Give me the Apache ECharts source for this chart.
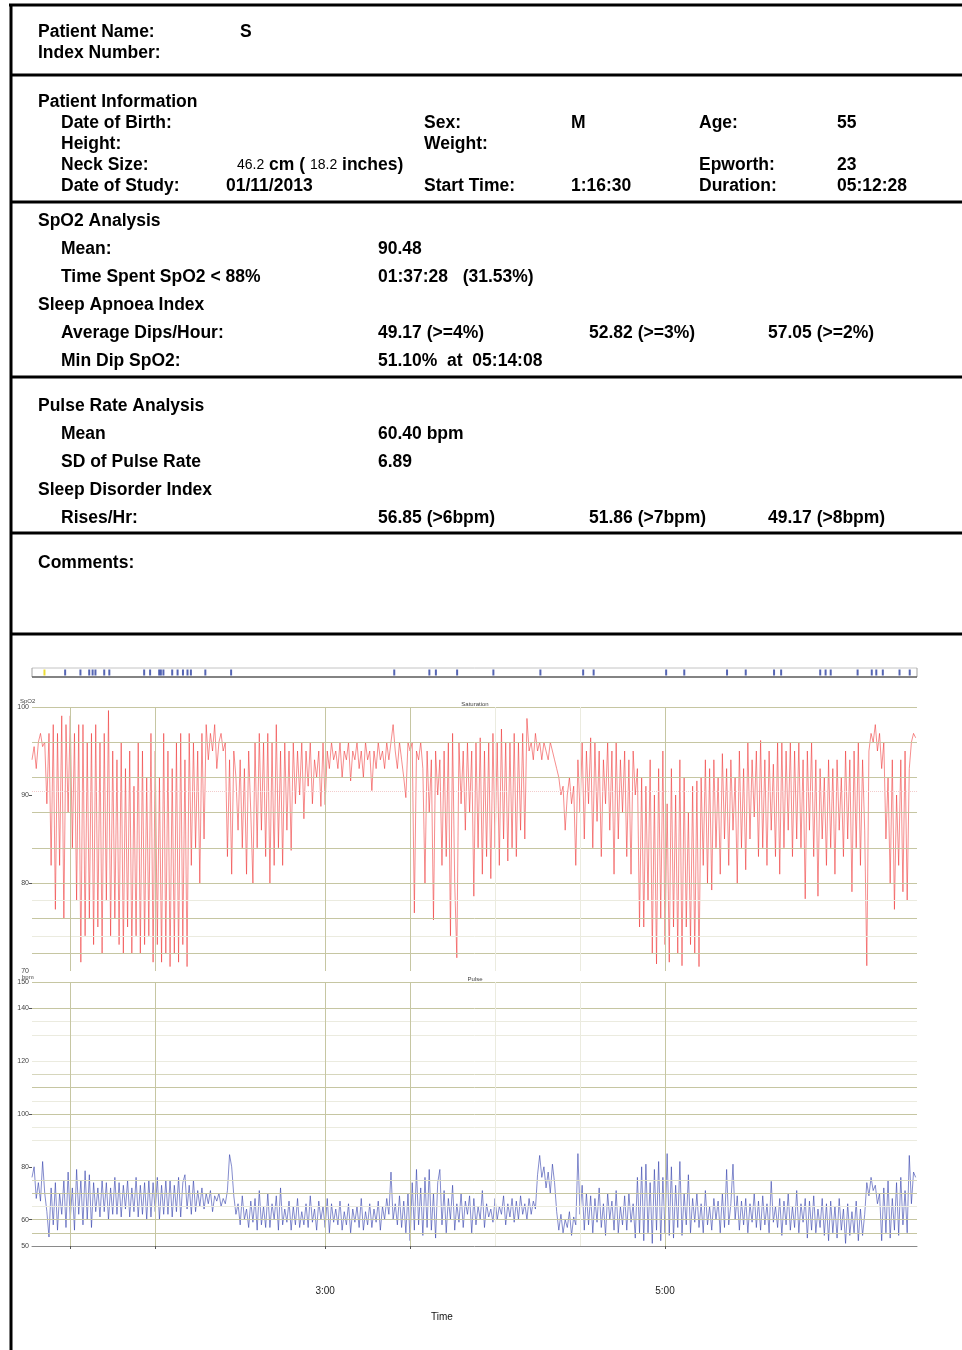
<!DOCTYPE html>
<html>
<head>
<meta charset="utf-8">
<script src="https://cdn.jsdelivr.net/npm/echarts@6/dist/echarts.min.js"></script>
<style>
html,body{margin:0;padding:0;background:#fff;}
#main{width:962px;height:1350px;}
</style>
</head>
<body>
<div id="main"></div>
<script>
// ---------------- DATA ----------------
const studyStartMin = 76.5;      // 1:16:30 in minutes after midnight
const studyEndMin = 388.97;      // 6:28:58
const sampleStepMin = 0.75;      // one sample every 45 s

// event (desaturation) markers, minutes after midnight
const eventTimes = [88.2, 93.6, 96.7, 97.9, 98.9, 102, 103.8, 116.1, 118.2, 121.4, 122, 122.9, 126, 127.9, 129.8, 131.4, 132.6, 137.7, 146.8, 204.4, 216.8, 219.1, 226.6, 239.4, 256, 271.1, 274.8, 300.4, 306.8, 321.9, 328.5, 338.5, 341, 354.8, 356.7, 358.5, 368, 373, 374.6, 376.9, 382.8, 386.4];
const markerTimes = [80.9];

// SpO2 (%)
const spo2 = [
 94, 95.5, 93, 96, 97, 95.5, 96, 89,
 97, 82, 98, 77, 97, 82, 99, 76,
 98, 88, 99, 84, 97, 78, 98, 71,
 98, 74, 96, 76, 97, 73, 98, 75,
 96, 72, 97, 78, 99.6, 74, 95, 76,
 94, 73, 96, 72, 93, 75, 95, 72,
 91, 74, 96, 72, 95, 73, 92, 74,
 97, 71, 95, 73, 92, 71, 97, 72,
 95, 70.5, 93, 72, 96, 71, 97, 73,
 94, 70.5, 97, 82, 96, 84, 95, 80,
 97, 85, 98, 94, 97, 95, 98, 93,
 96, 97, 95, 96, 83, 94, 81, 95,
 92, 86, 94, 84, 93, 81, 95, 88,
 80, 96, 84, 97, 86, 96, 83, 97,
 80, 96, 82, 98, 84, 95, 82, 96,
 86, 95, 83.7, 96, 89, 95, 90, 96,
 87.3, 95, 91, 96, 89, 94, 92, 95,
 88.7, 96, 88.9, 95, 93, 96, 94, 95,
 93, 96, 92, 95, 94, 96, 91.6, 95,
 94, 96, 93, 95, 92, 96, 94, 95,
 90.5, 95, 93, 96, 94, 95, 93, 96,
 94, 96, 98, 95, 93, 96, 94, 92,
 89.7, 96, 95, 96, 76.6, 95, 94, 96,
 93, 80, 95, 88, 94, 75.8, 95, 90,
 94, 82, 95, 83, 96, 74, 97, 80,
 71.5, 96, 89, 95, 86, 96, 88, 95,
 78.5, 96, 84, 96.5, 81, 95, 83, 96,
 80.5, 97, 84, 96, 82, 97.5, 85, 96,
 82.5, 96, 84, 97, 83, 96, 86, 97,
 85, 98.7, 95, 96, 94, 97, 95, 96,
 94, 96, 95, 94, 96, 95, 94, 93,
 92, 90, 91, 86, 90, 92, 89, 91,
 82, 94, 88, 96, 85, 95, 89, 96.5,
 84, 96, 87, 95, 83, 94, 89, 96,
 86, 95, 81, 96, 85, 94, 88, 95,
 83, 94, 81, 95, 90, 93, 75, 92,
 75, 91, 78, 94, 72, 90, 70.8, 93,
 76, 95, 73, 89, 71, 93, 75, 90,
 72, 94, 70.6, 92, 75, 88, 73, 91,
 72, 91.6, 70.5, 92, 82, 94, 80, 93,
 79.2, 94, 84, 92, 81, 94.7, 85, 93,
 82, 94, 86, 92, 80, 95, 84, 93,
 81.5, 96, 85, 94, 87.5, 95, 83, 96.2,
 84, 94, 82, 95, 86, 93.5, 83, 96,
 81, 96, 84, 95, 86, 96, 83, 95,
 85, 96, 84, 94, 78.2, 95, 86, 96,
 83, 94, 78.5, 93, 85, 92, 82, 94,
 84, 93, 81, 94, 86, 92, 83, 95,
 85, 94, 79, 95, 84, 96, 82, 94,
 86, 70.6, 95, 97, 96, 98, 95, 97,
 93, 96, 85, 92, 80, 94, 77, 90,
 82, 94, 79, 95, 78, 93, 96, 97,
 96.5
];

// Pulse (bpm)
const pulse = [
 76, 80, 68, 74, 67, 82, 70, 63,
 53.4, 72, 58, 74, 56, 70, 62, 75,
 57, 78, 60, 72, 56, 79, 62, 75,
 58, 78.5, 60, 77, 57, 74, 63, 72,
 61, 75, 63, 74, 60, 72, 62, 76,
 62, 74, 61, 73, 64, 75, 61, 72,
 63, 76, 61, 73, 62, 74, 60, 75,
 61, 74, 63, 76, 60, 73, 62, 75,
 62, 75, 61, 73, 63, 76, 61, 74,
 77, 64, 73, 62, 75, 63, 71, 65,
 72, 64, 70, 66, 71, 63, 69, 67,
 70, 65, 68, 66, 71, 84.6, 80, 69,
 62, 66, 58, 69, 60, 64, 57, 67,
 59, 68, 56, 71, 58, 65, 57, 70,
 57, 66, 60, 69, 56, 72, 58, 64,
 59, 67, 56, 65, 58, 68, 57, 63,
 58, 66, 57, 69, 59, 64, 56, 67,
 60, 65, 57, 68, 55, 66, 59, 64,
 58, 67, 56, 63, 58, 66, 55, 64,
 59, 65, 57, 68, 56, 63, 58, 66,
 57, 64, 59, 67, 56, 65, 60, 68,
 62, 78, 60, 66, 58, 69, 57, 67,
 55, 70, 52, 74, 56, 79, 58, 72,
 54, 76, 57, 79, 56, 70, 53, 74,
 79, 58, 71, 55, 68, 60, 73, 56,
 66, 59, 70, 57, 67, 62, 69, 55,
 68, 58, 65, 60, 71, 57, 66, 61,
 64, 59, 68, 60, 65, 62, 69, 58,
 66, 61, 68, 59, 67, 60, 69, 62,
 66, 60, 68, 62, 67, 64, 77, 84.3,
 76, 80, 72, 78, 70, 81, 74, 63,
 56, 62, 55, 60, 57, 63, 54, 61,
 58, 85, 62, 73, 56, 70, 58, 69,
 55, 68, 59, 72, 57, 66, 54, 70,
 60, 67, 56, 71, 55, 65, 58, 69,
 56, 70, 59, 66, 53, 76, 55, 80,
 52, 81, 55, 74, 51, 79, 56, 82,
 52, 76, 55, 85, 54, 80, 53, 73,
 57, 82, 54, 70, 58, 77, 55, 68,
 59, 70, 57, 66, 55, 71, 58, 65,
 56, 68, 60, 67, 55, 70, 57, 79,
 58, 66, 81, 60, 69, 56, 67, 58,
 68, 55, 66, 59, 70, 57, 67, 56,
 69, 58, 66, 55, 74.5, 59, 65, 57,
 68, 54, 67, 58, 70, 56, 65, 57,
 71, 55, 66, 59, 68, 53, 67, 56,
 69, 55, 64, 57, 68, 54, 66, 52,
 67, 55, 65, 53, 68, 56, 64, 51,
 66, 54, 63, 55, 67, 52, 64, 54,
 62, 74, 69, 76, 71, 73, 66, 70,
 52, 72, 55, 75, 53, 68, 56, 74,
 54, 76, 58, 71, 55, 84.3, 66, 78,
 76
];

const spo2Mean = 90.48;
const spo2TickLabels = [70, 80, 90, 100];
const pulseTickLabels = [50, 60, 80, 100, 120, 140, 150];
const timeTickLabels = [180, 300]; // 3:00, 5:00
const verticalGridTimes = [90, 120, 180, 210, 300];
const verticalGridTimesLight = [240, 270];
const spo2GridDark = [96, 92, 88, 84, 80, 76, 72];
const spo2GridLight = [78, 74];
const pulseGridDark = [150, 140, 110, 100, 70, 60, 55];
const pulseGridMid = [115, 75];
const pulseGridLight = [135, 130, 120, 105, 95, 90, 65];

// report text
const reportRows = [
  // [text, x, y]
  ['Patient Name:', 38, 32], ['S', 240, 32],
  ['Index Number:', 38, 53],
  ['Patient Information', 38, 102],
  ['Date of Birth:', 61, 123], ['Sex:', 424, 123], ['M', 571, 123], ['Age:', 699, 123], ['55', 837, 123],
  ['Height:', 61, 144], ['Weight:', 424, 144],
  ['Neck Size:', 61, 165], ['Epworth:', 699, 165], ['23', 837, 165],
  ['Date of Study:', 61, 186], ['01/11/2013', 226, 186], ['Start Time:', 424, 186], ['1:16:30', 571, 186], ['Duration:', 699, 186], ['05:12:28', 837, 186],
  ['SpO2 Analysis', 38, 221],
  ['Mean:', 61, 249], ['90.48', 378, 249],
  ['Time Spent SpO2 < 88%', 61, 277], ['01:37:28   (31.53%)', 378, 277],
  ['Sleep Apnoea Index', 38, 305],
  ['Average Dips/Hour:', 61, 333], ['49.17 (>=4%)', 378, 333], ['52.82 (>=3%)', 589, 333], ['57.05 (>=2%)', 768, 333],
  ['Min Dip SpO2:', 61, 361], ['51.10%  at  05:14:08', 378, 361],
  ['Pulse Rate Analysis', 38, 406],
  ['Mean', 61, 434], ['60.40 bpm', 378, 434],
  ['SD of Pulse Rate', 61, 462], ['6.89', 378, 462],
  ['Sleep Disorder Index', 38, 490],
  ['Rises/Hr:', 61, 518], ['56.85 (>6bpm)', 378, 518], ['51.86 (>7bpm)', 589, 518], ['49.17 (>8bpm)', 768, 518],
  ['Comments:', 38, 563]
];
const neckSizeParts = [['46.2', 14, false], [' cm ( ', 17.5, true], ['18.2', 14, false], [' inches)', 17.5, true]];
const separatorY = [75, 202, 377, 533, 634];

// ---------------- BUILD ----------------
const FONT = '"Liberation Sans", Arial, Helvetica, sans-serif';
const REPORT_FONT = 'bold 17.5px ' + FONT;
function fmtTime(v){ const h=Math.floor(v/60); const m=Math.round(v-h*60); return h+':'+(m<10?'0':'')+m; }
const spo2Data = spo2.map((v,i)=>[studyStartMin + i*sampleStepMin, v]);
const pulseData = pulse.map((v,i)=>[studyStartMin + i*sampleStepMin, v]);

const graphics = [];
function txt(text, x, y, font, fill, align){
  return {type:'text', x:x, y:y, silent:true, style:{text:text, font:font, fill:fill||'#000',
    textAlign:align||'left', align:align||'left', textVerticalAlign:'middle', verticalAlign:'middle'}};
}
// borders
graphics.push({type:'line', shape:{x1:9, y1:5, x2:962, y2:5}, style:{stroke:'#000', lineWidth:3}, silent:true});
graphics.push({type:'line', shape:{x1:11, y1:4, x2:11, y2:1350}, style:{stroke:'#000', lineWidth:3}, silent:true});
separatorY.forEach(y=>graphics.push({type:'line', shape:{x1:10, y1:y, x2:962, y2:y}, style:{stroke:'#000', lineWidth:3}, silent:true}));
reportRows.forEach(r=>graphics.push(txt(r[0], r[1], r[2], REPORT_FONT)));
// neck size line with mixed font sizes
(function(){
  const ctx = document.createElement('canvas').getContext('2d');
  let x = 237;
  neckSizeParts.forEach(p=>{
    const font = (p[2]?'bold ':'')+p[1]+'px '+FONT;
    graphics.push(txt(p[0], x, 165, font));
    ctx.font = font; x += ctx.measureText(p[0]).width;
  });
})();
// chart small texts
const small = '6px '+FONT;
graphics.push(txt('SpO2', 20, 701, small, '#444'));
graphics.push(txt('bpm', 22, 977, small, '#444'));
graphics.push(txt('Saturation', 475, 704, small, '#444', 'center'));
graphics.push(txt('Pulse', 475, 979, small, '#444', 'center'));
graphics.push(txt('Time', 442, 1317, '10px '+FONT, '#111', 'center'));
// event bar frame
graphics.push({type:'line', shape:{x1:32, y1:668, x2:917, y2:668}, style:{stroke:'#c4c4c4', lineWidth:1}, silent:true, z:10});
graphics.push({type:'line', shape:{x1:32, y1:668, x2:32, y2:677}, style:{stroke:'#a0a0a0', lineWidth:1}, silent:true, z:10});
graphics.push({type:'line', shape:{x1:917, y1:668, x2:917, y2:677}, style:{stroke:'#a0a0a0', lineWidth:1}, silent:true, z:10});
graphics.push({type:'line', shape:{x1:32, y1:677, x2:917, y2:677}, style:{stroke:'#5a5a5a', lineWidth:1.5}, silent:true, z:10});

const DARK = '#c6c6a2', MID = '#d6d6bc', LIGHT = '#ebebdf';
function hLines(vals, color){ return vals.map(v=>({yAxis:v, lineStyle:{color:color, width:1, type:'solid'}})); }
function vLines(vals, color){ return vals.map(v=>({xAxis:v, lineStyle:{color:color, width:1, type:'solid'}})); }

const xBase = {type:'value', min:studyStartMin, max:studyEndMin, splitLine:{show:false}};

const option = {
  animation:false,
  backgroundColor:'#fff',
  graphic:{elements:graphics},
  grid:[
    {left:32, width:885, top:668, height:9},
    {left:32, width:885, top:707, height:264},
    {left:32, width:885, top:982, height:264}
  ],
  xAxis:[
    Object.assign({gridIndex:0, show:false}, xBase),
    Object.assign({gridIndex:1, axisLine:{show:false}, axisLabel:{show:false},
      axisTick:{show:true, customValues:verticalGridTimes, length:2, inside:true, lineStyle:{color:'#777'}}}, xBase),
    Object.assign({gridIndex:2, axisLine:{show:true, lineStyle:{color:'#8a8a8a', width:1}},
      axisTick:{show:true, customValues:verticalGridTimes, length:3, lineStyle:{color:'#555'}},
      axisLabel:{show:true, customValues:timeTickLabels, margin:40, fontSize:10, color:'#222', fontFamily:FONT, formatter:v=>fmtTime(v)}}, xBase)
  ],
  yAxis:[
    {gridIndex:0, type:'value', min:0, max:1, show:false},
    {gridIndex:1, type:'value', min:70, max:100, interval:10, splitLine:{show:false}, axisLine:{show:false},
      axisTick:{show:true, customValues:[80, 90], length:3, lineStyle:{color:'#555'}},
      axisLabel:{customValues:spo2TickLabels, fontSize:7, color:'#444', margin:3, fontFamily:FONT}},
    {gridIndex:2, type:'value', min:50, max:150, splitLine:{show:false}, axisLine:{show:false},
      axisTick:{show:true, customValues:[60, 80, 100, 140], length:3, lineStyle:{color:'#555'}},
      axisLabel:{customValues:pulseTickLabels, fontSize:7, color:'#444', margin:3, fontFamily:FONT}}
  ],
  series:[
    {type:'scatter', xAxisIndex:0, yAxisIndex:0, symbol:'rect', symbolSize:[2,6], silent:true,
      itemStyle:{color:'#2a3fa0'}, data:eventTimes.map(t=>[t,0.5]), z:12},
    {type:'scatter', xAxisIndex:0, yAxisIndex:0, symbol:'rect', symbolSize:[2,6], silent:true,
      itemStyle:{color:'#e8d400'}, data:markerTimes.map(t=>[t,0.5]), z:12},
    // SpO2 gridlines
    {type:'line', xAxisIndex:1, yAxisIndex:1, data:[], silent:true, z:1,
      markLine:{silent:true, symbol:['none','none'], label:{show:false}, animation:false,
        data:[].concat(hLines([100], DARK), hLines(spo2GridDark, DARK), hLines(spo2GridLight, LIGHT),
          [{yAxis:spo2Mean, lineStyle:{color:'#f3cccc', width:1, type:'dotted'}}],
          vLines(verticalGridTimes, DARK), vLines(verticalGridTimesLight, LIGHT))}},
    {type:'line', xAxisIndex:1, yAxisIndex:1, data:spo2Data, showSymbol:false, symbol:'none', silent:true, z:3,
      lineStyle:{color:'rgba(238,36,36,0.62)', width:0.85}},
    // Pulse gridlines
    {type:'line', xAxisIndex:2, yAxisIndex:2, data:[], silent:true, z:1,
      markLine:{silent:true, symbol:['none','none'], label:{show:false}, animation:false,
        data:[].concat(hLines(pulseGridDark, DARK), hLines(pulseGridMid, MID), hLines(pulseGridLight, LIGHT),
          vLines(verticalGridTimes, DARK), vLines(verticalGridTimesLight, LIGHT))}},
    {type:'line', xAxisIndex:2, yAxisIndex:2, data:pulseData, showSymbol:false, symbol:'none', silent:true, z:3,
      lineStyle:{color:'rgba(48,60,170,0.7)', width:0.85}}
  ]
};
const chart = echarts.init(document.getElementById('main'), null, {renderer:'canvas', width:962, height:1350});
chart.setOption(option);
</script>
</body>
</html>
